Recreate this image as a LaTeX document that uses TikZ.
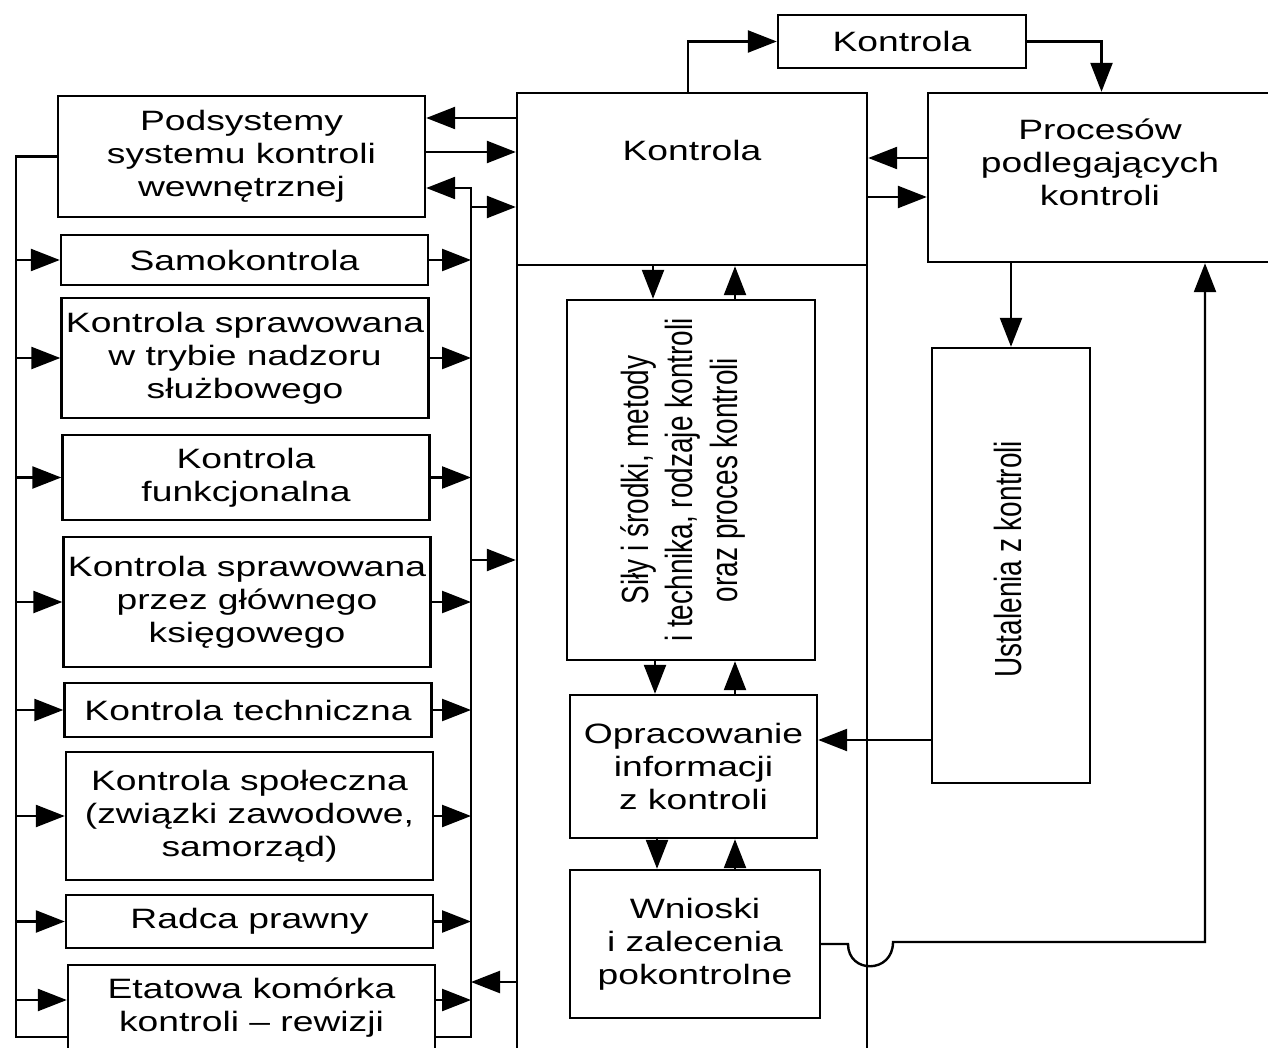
\documentclass[tikz,border=0pt]{standalone}
\usepackage{fontspec}
\setmainfont{Liberation Sans}[FakeStretch=1.33]
\newfontfamily\rotfont{Liberation Sans}
\usepackage{graphicx}
\usetikzlibrary{arrows.meta}

\tikzset{
  box/.style={draw, line width=2.4pt, inner sep=0pt, align=center, font=\fontsize{28}{33}\selectfont},
  txt/.style={inner sep=0pt, align=center, font=\fontsize{28}{33}\selectfont},
  ln/.style={line width=2.4pt},
  arr/.style={line width=2.4pt, -{Triangle[length=29pt,width=22pt]}},
}
\newcommand{\rottext}[1]{\scalebox{1}[1.35]{\rotfont\fontsize{28}{33}\selectfont\begin{tabular}{@{}c@{}}#1\end{tabular}}}

\begin{document}
\begin{tikzpicture}[x=1pt, y=-1pt]
    \useasboundingbox (0,0) rectangle (1268,1048);

    % left column
    \node[box, minimum width=367pt, minimum height=121pt] (podsys) at (241.5,156.5) {Podsystemy\\systemu kontroli\\wewnętrznej};
    \node[box, minimum width=367pt, minimum height=50pt ] (samo)   at (244.5,260)   {Samokontrola};
    \node[box, minimum width=367pt, minimum height=120pt] (nadzor) at (245,358)     {Kontrola sprawowana\\w trybie nadzoru\\służbowego};
    \node[box, minimum width=367pt, minimum height=85pt ] (funk)   at (246,477.5)   {Kontrola\\funkcjonalna};
    \node[box, minimum width=367pt, minimum height=130pt] (ksieg)  at (247,602)     {Kontrola sprawowana\\przez głównego\\księgowego};
    \node[box, minimum width=367pt, minimum height=54pt ] (tech)   at (248,710)     {Kontrola techniczna};
    \node[box, minimum width=367pt, minimum height=128pt] (spol)   at (249.5,816)   {Kontrola społeczna\\(związki zawodowe,\\samorząd)};
    \node[box, minimum width=367pt, minimum height=53pt ] (radca)  at (249.5,921.5) {Radca prawny};
    \node[box, minimum width=367pt, minimum height=86pt ] (etat)   at (251.5,1008)  {Etatowa komórka\\kontroli -- rewizji};

    % middle column
    \node[box, minimum width=350pt, minimum height=172pt] (kontrola)    at (692,179)   {};
    \node[txt] (kontrolaT) at (692,150) {Kontrola};
    \node[box, minimum width=350pt, minimum height=795pt] (kontrolaDol) at (692,662.5) {};
    \node[box, minimum width=248pt, minimum height=53pt ] (ktop)   at (902,41.5)  {Kontrola};
    \node[box, minimum width=248pt, minimum height=360pt] (sily)   at (691,480)   {};
    \node[rotate=90, inner sep=0pt] (silyT) at (684,480) {\rottext{Siły i środki, metody\\i technika, rodzaje kontroli\\oraz proces kontroli}};
    \node[box, minimum width=247pt, minimum height=143pt] (oprac)  at (693.5,766.5) {Opracowanie\\informacji\\z kontroli};
    \node[box, minimum width=250pt, minimum height=148pt] (wnioski) at (695,944)  {Wnioski\\i zalecenia\\pokontrolne};

    % right column
    \node[box, minimum width=347pt, minimum height=169pt] (procesy) at (1101.5,177.5) {};
    \node[txt] (procesyT) at (1100,162) {Procesów\\podlegających\\kontroli};
    \node[box, minimum width=158pt, minimum height=435pt] (ustal) at (1011,565.5) {};
    \node[rotate=90, inner sep=0pt] (ustalT) at (1013,559) {\rottext{Ustalenia z kontroli}};

    % buses
    \coordinate (lbus) at (16,0);
    \coordinate (lbot) at (16,1037);
    \coordinate (rbus) at (471,0);
    \coordinate (rtop) at (471,188);
    \coordinate (rbot) at (471,1037);

    \draw[ln] (podsys.west) -| (lbot) -- (lbot -| etat.west);
    \foreach \b in {samo,nadzor,funk,ksieg,tech,spol,radca}
        \draw[arr] (lbus |- \b.west) -- (\b.west);
    \draw[arr] (lbus |- 0,1000) -- (etat.west |- 0,1000);

    \foreach \b in {samo,nadzor,funk,ksieg,tech,spol,radca}
        \draw[arr] (\b.east) -- (rbus |- \b.east);
    \draw[arr] (etat.east |- 0,1000) -- (rbus |- 0,1000);
    \draw[arr] (rbot -| etat.east) -| (rtop) -- (rtop -| podsys.east);

    % podsystemy <-> kontrola
    \draw[arr] (kontrola.west |- 0,118) -- (podsys.east |- 0,118);
    \draw[arr] (podsys.east |- 0,152) -- (kontrola.west |- 0,152);
    \draw[arr] (rbus |- 0,207) -- (kontrola.west |- 0,207);
    \draw[arr] (rbus |- 0,560) -- (kontrolaDol.west |- 0,560);
    \draw[arr] (kontrolaDol.west |- 0,982) -- (rbus |- 0,982);

    % kontrola <-> procesy
    \draw[arr] (kontrola.north -| 688,0) |- (ktop.west);
    \draw[arr] (ktop.east) -| (procesy.north);
    \draw[arr] (procesy.west |- 0,158) -- (kontrola.east |- 0,158);
    \draw[arr] (kontrola.east |- 0,197) -- (procesy.west |- 0,197);
    \draw[arr] (procesy.south -| ustal.north) -- (ustal.north);
    \draw[arr] (ustal.west |- 0,740) -- (oprac.east |- 0,740);

    % inner chain
    \draw[arr] (kontrola.south -| 653,0) -- (sily.north -| 653,0);
    \draw[arr] (sily.north -| 735,0) -- (kontrola.south -| 735,0);
    \draw[arr] (sily.south -| 655,0) -- (oprac.north -| 655,0);
    \draw[arr] (oprac.north -| 735,0) -- (sily.south -| 735,0);
    \draw[arr] (oprac.south -| 657,0) -- (wnioski.north -| 657,0);
    \draw[arr] (wnioski.north -| 735,0) -- (oprac.south -| 735,0);

    % feedback with hop
    \coordinate (hopA) at (848,944);
    \coordinate (hopB) at (893,942);
    \coordinate (retUp) at (1205,942);
    \draw[arr] (wnioski.east) -- (hopA) .. controls (848,974) and (893,974) .. (hopB) -- (retUp) -- (retUp |- procesy.south);
\end{tikzpicture}
\end{document}
